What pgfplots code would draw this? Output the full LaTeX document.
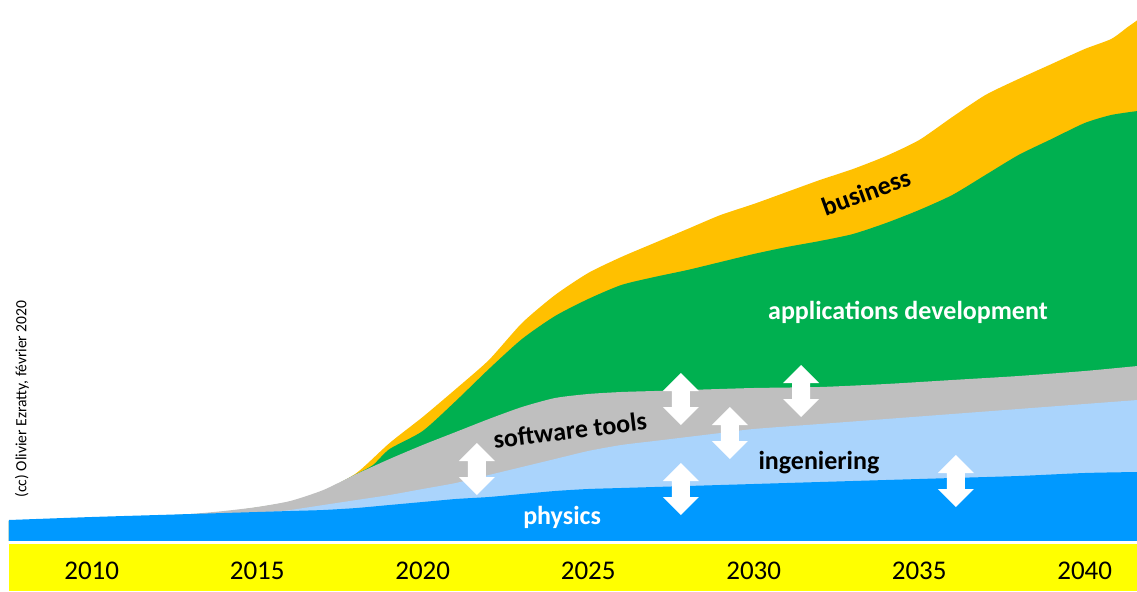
\documentclass[border=0pt]{standalone}
\usepackage{fontspec}
\setmainfont{Carlito}
\usepackage{pgfplots}
\pgfplotsset{compat=1.18}
\definecolor{phys}{RGB}{0,153,255}
\definecolor{inge}{RGB}{170,212,252}
\definecolor{tools}{RGB}{191,191,191}
\definecolor{apps}{RGB}{0,176,80}
\definecolor{busi}{RGB}{255,192,0}
\definecolor{band}{RGB}{255,255,0}
% x is years after 2000
% white up/down block arrow centred on a data point
\newcommand{\darrow}[2]{\fill[white] (axis cs:#1,#2) ++(0pt,13pt) -- ++(9pt,-9pt) -- ++(-4.5pt,0pt) -- ++(0pt,-8pt) -- ++(4.5pt,0pt) -- ++(-9pt,-9pt) -- ++(-9pt,9pt) -- ++(4.5pt,0pt) -- ++(0pt,8pt) -- ++(-4.5pt,0pt) -- cycle;}
\begin{document}
\begin{tikzpicture}[lbl/.style={font=\fontsize{13}{15}\selectfont\bfseries,inner sep=0pt}]
 \begin{axis}[scale only axis,width=568.5pt,height=295.5pt,
  xmin=7.23,xmax=41.58,ymin=-50,ymax=541,hide axis]
  \addplot[draw=none,fill=none] coordinates {(7.23,-50)(41.58,541)};
  % cumulative tops, drawn from the top layer down
  \addplot[fill=busi,draw=none,smooth,tension=0.4] coordinates {(7.5,20)(10,23)(12,25)(14,29)(16,39)(17,50)(18,68)(19,98)(20,124)(21,152)(22,181)(23,218)(24,246)(25,268)(26,284)(27,298)(28,312)(29,326)(30,337)(31,349)(32,361)(33,372)(34,385)(35,401)(36,424)(37,446)(38,462)(39,477)(40,492)(40.8,502)(41.3,514)(41.6,521)} \closedcycle;
  \addplot[fill=apps,draw=none,smooth,tension=0.4] coordinates {(7.5,20)(10,23)(12,25)(14,29)(16,39)(17,50)(18,67)(18.5,76)(19,92)(20,110)(21,140)(22,172)(23,202)(24,225)(25,242)(26,256)(27,264)(28,271)(29,279)(30,287)(31,294)(32,300)(33,307)(34,318)(35,331)(36,346)(37,366)(38,386)(39,402)(40,418)(40.8,426)(41.6,430)} \closedcycle;
  \addplot[fill=tools,draw=none,smooth,tension=0.4] coordinates {(7.5,20)(10,23)(12,25)(13,27)(14,30)(15,34)(16,40)(17,51)(18,67)(19,82)(20,96)(21,109)(22,122)(23,134)(24,143)(25,147)(26,149)(27,150)(28,151)(30,153)(32,154)(34,157)(36,161)(38,165)(40,170)(41.6,175)} \closedcycle;
  \addplot[fill=inge,draw=none,smooth,tension=0.4] coordinates {(7.5,20)(10,23)(12,25)(14,27)(15.5,29.5)(16,31)(17,36)(18,41)(19,46)(20,52)(21,58)(22,66)(23,74)(24,82)(25,90)(26,96)(27,100)(28,104)(29,108)(30,112)(32,117)(34,122)(36,127)(38,132)(40,137)(41.6,141)} \closedcycle;
  \addplot[fill=phys,draw=none,smooth,tension=0.4] coordinates {(7.5,21)(10,24)(12,26)(14,28)(16,30)(17,31)(18,33)(19,36)(20,39)(21,42)(22,44)(23,47)(24,50)(25,52)(26,53)(28,55)(30,57)(32,59)(34,61)(36,63)(38,65)(40,68)(41.6,69)} \closedcycle;
  % band of years
  \fill[white] (axis cs:7.23,-50) rectangle (axis cs:41.58,0);
  \fill[band] (axis cs:7.5,-50) rectangle (axis cs:41.58,-3);
  \node[font=\fontsize{13.5}{15}\selectfont] at (axis cs:10,-30) {2010};
  \node[font=\fontsize{13.5}{15}\selectfont] at (axis cs:15,-30) {2015};
  \node[font=\fontsize{13.5}{15}\selectfont] at (axis cs:20,-30) {2020};
  \node[font=\fontsize{13.5}{15}\selectfont] at (axis cs:25,-30) {2025};
  \node[font=\fontsize{13.5}{15}\selectfont] at (axis cs:30,-30) {2030};
  \node[font=\fontsize{13.5}{15}\selectfont] at (axis cs:35,-30) {2035};
  \node[font=\fontsize{13.5}{15}\selectfont] at (axis cs:40,-30) {2040};
  % arrows
  \darrow{21.64}{72}
  \darrow{27.80}{142}
  \darrow{29.28}{108}
  \darrow{31.43}{150}
  \darrow{27.80}{52}
  \darrow{36.11}{60}
  % labels
  \node[lbl,rotate=20] at (axis cs:33.39,349) {business};
  \node[lbl,white] at (axis cs:34.66,229) {applications development};
  \node[lbl,rotate=7] at (axis cs:24.45,111) {software tools};
  \node[lbl] at (axis cs:31.97,78) {ingeniering};
  \node[lbl,white] at (axis cs:24.21,24) {physics};
  \node[rotate=90,font=\fontsize{7.8}{9}\selectfont] at (axis cs:7.89,142) {(cc) Olivier Ezratty, février 2020};
 \end{axis}
\end{tikzpicture}
\end{document}
